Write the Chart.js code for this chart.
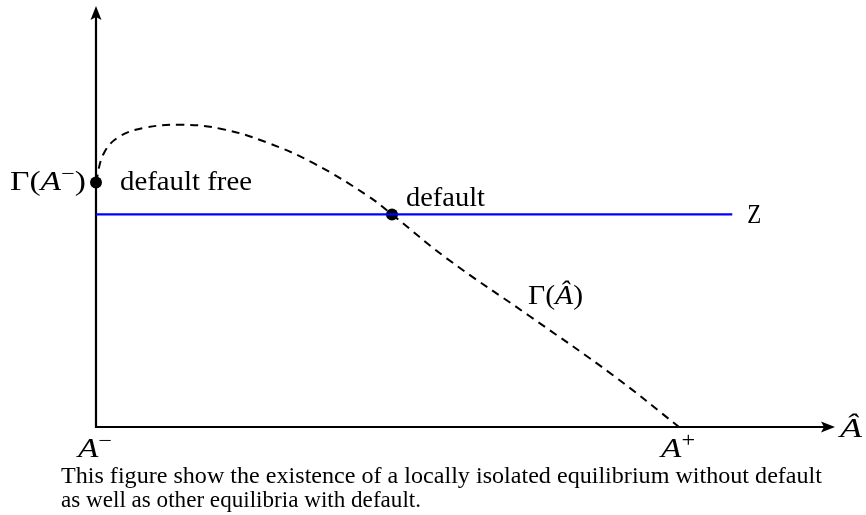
<!DOCTYPE html>
<html>
<head>
<meta charset="utf-8">
<script src="https://cdn.jsdelivr.net/npm/chart.js@4.4.1/dist/chart.umd.min.js"></script>
<style>
  html, body { margin: 0; padding: 0; background: #fff; }
  #wrap { width: 866px; height: 515px; }
</style>
</head>
<body>
<div id="wrap"><canvas id="chart" width="866" height="515"></canvas></div>
<script>
// --- DATA ---
// Gamma(A-hat) curve (x: 0..100 along A-hat axis, y: 0..100)
const curveX = [0, 1.0, 3.0, 6.4, 11.5, 17.0, 23.1, 29.5, 36.7, 40.05, 47.5, 58.7, 69.96, 78.9];
const curveY = [58.1, 64.8, 68.8, 71.0, 71.8, 70.8, 67.6, 62.6, 55.0, 50.5, 40.0, 26.3, 12.3, 0];

// Z level and where its line stops
const zLevel = 50.5;
const zStart = 0;
const zEnd = 86.1;

// equilibria: default free (at A-) and default
const eqX = [0, 40.05];
const eqY = [58.1, 50.5];

// axis tick labels
const tickValues = [0, 78.9];
const tickLabels = [['A', '−'], ['A', '+']];

// --- TEXT HELPERS ---
const SERIF = '"Liberation Serif", "DejaVu Serif", serif';
const LABEL_SIZE = 27.5;
const SUP_SIZE = 20;
const CAPTION_SIZE = 22.5;

// parts: [text, italic, size, raise]
function partsWidth(ctx, parts) {
    let w = 0;
    parts.forEach(p => {
        ctx.font = (p[1] ? 'italic ' : '') + p[2] + 'px ' + SERIF;
        w += ctx.measureText(p[0]).width;
    });
    return w;
}

// draws the parts so they span x0..x1 (stretched horizontally, the CM font is wider)
function fitText(ctx, parts, x0, x1, baseline) {
    const w = partsWidth(ctx, parts);
    const sx = (x1 - x0) / w;
    ctx.save();
    ctx.translate(x0, baseline);
    ctx.scale(sx, 1);
    ctx.fillStyle = '#000';
    ctx.textBaseline = 'alphabetic';
    ctx.textAlign = 'left';
    let x = 0;
    parts.forEach(p => {
        ctx.font = (p[1] ? 'italic ' : '') + p[2] + 'px ' + SERIF;
        ctx.fillText(p[0], x, -(p[3] || 0));
        x += ctx.measureText(p[0]).width;
    });
    ctx.restore();
}

// --- PLUGIN: arrows, labels, caption ---
const figurePlugin = {
    id: 'figure',
    beforeDatasetsDraw(chart) {
        const ctx = chart.ctx;
        const xs = chart.scales.x;
        const ys = chart.scales.y;
        const ox = xs.getPixelForValue(0);
        const oy = ys.getPixelForValue(0);
        const xEnd = xs.getPixelForValue(100);
        const yEnd = ys.getPixelForValue(100);

        ctx.save();
        ctx.strokeStyle = '#000';
        ctx.fillStyle = '#000';
        ctx.lineWidth = 2.2;
        ctx.beginPath();
        ctx.moveTo(ox, oy + 1.1);
        ctx.lineTo(ox, yEnd + 8);
        ctx.moveTo(ox - 1.1, oy);
        ctx.lineTo(xEnd - 8, oy);
        ctx.stroke();

        // arrow heads
        ctx.beginPath();
        ctx.moveTo(ox, yEnd);
        ctx.lineTo(ox - 5.5, yEnd + 14);
        ctx.lineTo(ox, yEnd + 11);
        ctx.lineTo(ox + 5.5, yEnd + 14);
        ctx.closePath();
        ctx.fill();
        ctx.beginPath();
        ctx.moveTo(xEnd, oy);
        ctx.lineTo(xEnd - 14, oy - 5.5);
        ctx.lineTo(xEnd - 11, oy);
        ctx.lineTo(xEnd - 14, oy + 5.5);
        ctx.closePath();
        ctx.fill();
        ctx.restore();
    },
    afterDraw(chart) {
        const ctx = chart.ctx;
        const xs = chart.scales.x;
        const ys = chart.scales.y;
        const oy = ys.getPixelForValue(0);

        // tick labels under the A-hat axis
        tickValues.forEach((v, i) => {
            const px = xs.getPixelForValue(v);
            const lab = tickLabels[i];
            fitText(ctx, [[lab[0], true, LABEL_SIZE, 0], [lab[1], false, SUP_SIZE, 10]], px - 18, px + 16, oy + 30);
        });

        // axis name
        fitText(ctx, [['Â', true, LABEL_SIZE, 0]], 840, 862, oy + 10);

        // Gamma(A-) next to the y axis
        const gy = ys.getPixelForValue(eqY[0]);
        fitText(ctx, [['Γ(', false, LABEL_SIZE, 0], ['A', true, LABEL_SIZE, 0], ['−', false, SUP_SIZE, 10], [')', false, LABEL_SIZE, 0]], 10, 86, gy + 8);

        fitText(ctx, [['default free', false, LABEL_SIZE, 0]], 120, 252, gy + 8);

        const dx = xs.getPixelForValue(eqX[1]);
        const dy = ys.getPixelForValue(eqY[1]);
        fitText(ctx, [['default', false, LABEL_SIZE, 0]], dx + 14, dx + 93, dy - 8);

        const zy = ys.getPixelForValue(zLevel);
        const zx = xs.getPixelForValue(zEnd);
        fitText(ctx, [['Z', false, LABEL_SIZE, 0]], zx + 15, zx + 29, zy + 9);

        fitText(ctx, [['Γ(', false, LABEL_SIZE, 0], ['Â', true, LABEL_SIZE, 0], [')', false, LABEL_SIZE, 0]], 528, 583, 304);

        // caption
        fitText(ctx, [['This figure show the existence of a locally isolated equilibrium without default', false, CAPTION_SIZE, 0]], 61, 822, 483);
        fitText(ctx, [['as well as other equilibria with default.', false, CAPTION_SIZE, 0]], 61, 421, 507);
    }
};

// --- CHART ---
const curvePoints = curveX.map((x, i) => ({ x: x, y: curveY[i] }));
const zPoints = [{ x: zStart, y: zLevel }, { x: zEnd, y: zLevel }];
const eqPoints = eqX.map((x, i) => ({ x: x, y: eqY[i] }));

new Chart(document.getElementById('chart'), {
    type: 'scatter',
    data: {
        datasets: [
            {
                label: 'Z',
                data: zPoints,
                showLine: true,
                borderColor: '#0000ff',
                borderWidth: 2.2,
                pointRadius: 0,
                clip: false
            },
            {
                label: 'Gamma',
                data: curvePoints,
                showLine: true,
                borderColor: '#000',
                borderWidth: 2,
                borderDash: [8, 6],
                tension: 0.4,
                pointRadius: 0,
                clip: false
            },
            {
                label: 'equilibria',
                data: eqPoints,
                showLine: false,
                pointRadius: 6,
                pointBackgroundColor: '#000',
                pointBorderColor: '#000',
                pointBorderWidth: 0,
                clip: false
            }
        ]
    },
    options: {
        responsive: false,
        animation: false,
        devicePixelRatio: 1,
        layout: { padding: { left: 96, right: 31, top: 5, bottom: 88 } },
        scales: {
            x: { type: 'linear', min: 0, max: 100, display: false },
            y: { type: 'linear', min: 0, max: 100, display: false }
        },
        plugins: {
            legend: { display: false },
            tooltip: { enabled: false }
        },
        events: []
    },
    plugins: [figurePlugin]
});
</script>
</body>
</html>
